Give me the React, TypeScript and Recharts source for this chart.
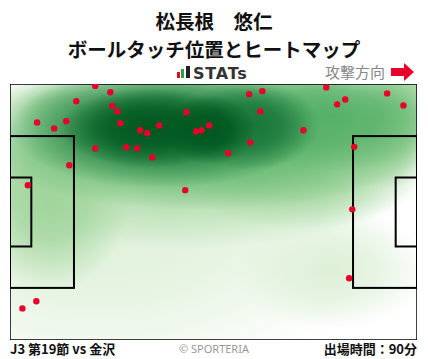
import React from "react";
import { ScatterChart, Scatter, XAxis, YAxis } from "recharts";

// ---- data (pitch metres: x 0..105 attacking right, y 0..68 from top) ----
const touchX = [
  22.0, 25.9, 17.1, 26.4, 27.7, 7.0, 14.5, 11.4, 28.5, 33.6, 35.4, 38.5, 45.5,
  48.0, 49.4, 51.4, 22.0, 30.0, 32.8, 36.7, 15.3, 4.6, 45.2, 61.7, 65.1, 81.6,
  64.6, 84.4, 86.5, 97.3, 101.5, 75.7, 62.0, 56.3, 88.8, 88.3, 87.5, 6.8, 3.2,
];
const touchY = [
  0.5, 2.2, 4.6, 5.8, 7.3, 10.2, 9.9, 11.8, 10.4, 12.3, 13.1, 11.0, 7.5, 12.6,
  12.3, 11.0, 17.1, 16.8, 17.1, 19.5, 21.6, 26.9, 28.2, 2.7, 1.9, 0.9, 7.3, 5.4,
  4.1, 2.5, 5.7, 12.3, 15.5, 18.4, 16.7, 33.3, 51.6, 57.7, 59.6,
];

// heat density blobs: centre (m), spread (m), intensity level 1..5
const heatX = [
  23.2, 82.6, 46.4, 10.3, 15.5, 100.6, 74.8, 96.0, 49.0, 82.6, 38.7, 61.9, 36.1,
  51.6,
];
const heatY = [
  36.1, 49.4, 17.5, 30.8, 6.9, 6.9, 22.8, 16.0, 13.5, 8.2, 11.7, 10.9, 11.7,
  12.2,
];
const heatSX = [
  77.0, 25.8, 67.0, 20.6, 15.5, 13.0, 31.0, 14.0, 62.0, 30.0, 38.7, 18.0, 23.2,
  11.6,
];
const heatSY = [
  45.0, 16.0, 26.5, 24.0, 8.0, 16.0, 16.0, 12.0, 20.0, 15.0, 16.0, 12.0, 10.6,
  9.3,
];
const heatLevel = [1, 1, 2, 2, 2, 2, 2, 2, 3, 3, 4, 4, 5, 5];

// pitch markings: [x1, y1, x2, y2] in metres
const pitchLineX1 = [0, 0, 88.5, 99.5, 52.5, 0];
const pitchLineY1 = [13.84, 24.84, 13.84, 24.84, 0, 0];
const pitchLineX2 = [16.5, 5.5, 105, 105, 52.5, 105];
const pitchLineY2 = [54.16, 43.16, 54.16, 43.16, 68, 68];

const touches = touchX.map((x, i) => ({ x, y: touchY[i] }));
const heat = heatX.map((x, i) => ({
  x,
  y: heatY[i],
  sx: heatSX[i],
  sy: heatSY[i],
  level: heatLevel[i],
}));
const pitchLines = pitchLineX1.map((x, i) => ({
  x,
  y: pitchLineY1[i],
  w: pitchLineX2[i] - x,
  h: pitchLineY2[i] - pitchLineY1[i],
  outline: i === pitchLineX1.length - 1,
}));

const levelColors = ["#def0d8", "#9fd49a", "#55b066", "#17763a", "#00561f"];

const W = 428;
const H = 359;
const M = { top: 84, right: 11, bottom: 19, left: 10 };
const PW = W - M.left - M.right;
const PH = H - M.top - M.bottom;
const pxX = PW / 105;
const pxY = PH / 68;

const HeatShape = (props: any) => {
  const { cx, cy, payload } = props;
  if (cx == null || cy == null) return null;
  return (
    <g clipPath="url(#pitchClip)">
      <ellipse
        cx={cx}
        cy={cy}
        rx={payload.sx * pxX}
        ry={payload.sy * pxY}
        fill={`url(#heatGrad${payload.level})`}
      />
    </g>
  );
};

const LineShape = (props: any) => {
  const { cx, cy, payload } = props;
  if (cx == null || cy == null) return null;
  return (
    <rect
      x={cx}
      y={cy}
      width={payload.w * pxX}
      height={payload.h * pxY}
      fill="none"
      stroke="#000"
      strokeWidth={payload.outline ? 1.5 : 2}
    />
  );
};

const Dot = (props: any) => {
  const { cx, cy } = props;
  if (cx == null || cy == null) return null;
  return <circle cx={cx} cy={cy} r={3.2} fill="#e8002a" />;
};

export default function App() {
  const font = '"Noto Sans CJK JP", "Noto Sans", sans-serif';
  return (
    <div
      style={{
        position: "absolute",
        left: 0,
        top: 0,
        width: W,
        height: H,
        background: "#fff",
        fontFamily: font,
        overflow: "hidden",
      }}
    >
      <svg width={0} height={0} style={{ position: "absolute" }}>
        <defs>
          <clipPath id="pitchClip" clipPathUnits="userSpaceOnUse">
            <rect x={M.left} y={M.top} width={PW} height={PH} />
          </clipPath>
          {levelColors.map((c, i) => (
            <radialGradient key={i} id={`heatGrad${i + 1}`}>
              <stop offset="0%" stopColor={c} stopOpacity={1} />
              <stop offset="45%" stopColor={c} stopOpacity={0.75} />
              <stop offset="100%" stopColor={c} stopOpacity={0} />
            </radialGradient>
          ))}
        </defs>
      </svg>

      <div
        style={{
          position: "absolute",
          top: 6.5,
          width: W,
          textAlign: "center",
          fontSize: 19.5,
          fontWeight: 700,
          lineHeight: "28.5px",
          color: "#111",
        }}
      >
        松長根　悠仁
        <br />
        ボールタッチ位置とヒートマップ
      </div>

      <svg
        width={W}
        height={30}
        style={{ position: "absolute", left: 0, top: 58 }}
      >
        <rect x={177} y={14} width={3} height={6} fill="#e8002a" />
        <rect x={181} y={11} width={3} height={9} fill="#2aa33a" />
        <rect x={186} y={8} width={4} height={12} fill="#222" />
        <text
          x={193}
          y={20.5}
          fontFamily='"DejaVu Sans", sans-serif'
          fontWeight={700}
          fontSize={16}
          letterSpacing={0.8}
          fill="#333"
        >
          STATs
        </text>
        <text x={325} y={20} fontFamily={font} fontSize={15} fill="#888">
          攻撃方向
        </text>
        <path
          d="M391,10 L404,10 L404,5 L414,14 L404,23 L404,18 L391,18 Z"
          fill="#e8002a"
        />
      </svg>

      <div style={{ position: "absolute", left: 0, top: 0 }}>
        <ScatterChart width={W} height={H} margin={M}>
          <XAxis
            type="number"
            dataKey="x"
            domain={[0, 105]}
            hide
            allowDataOverflow
          />
          <YAxis
            type="number"
            dataKey="y"
            domain={[0, 68]}
            reversed
            hide
            allowDataOverflow
          />
          <Scatter data={heat} shape={<HeatShape />} isAnimationActive={false} />
          <Scatter
            data={pitchLines}
            shape={<LineShape />}
            isAnimationActive={false}
          />
          <Scatter data={touches} shape={<Dot />} isAnimationActive={false} />
        </ScatterChart>
      </div>

      <div
        style={{
          position: "absolute",
          left: 10,
          top: 340,
          fontSize: 13,
          fontWeight: 700,
          lineHeight: "18px",
          color: "#111",
        }}
      >
        J3 第19節 vs 金沢
      </div>
      <div
        style={{
          position: "absolute",
          left: 0,
          width: W,
          top: 340,
          textAlign: "center",
          fontSize: 11,
          lineHeight: "17px",
          color: "#999",
          fontFamily: '"Noto Sans", sans-serif',
        }}
      >
        © SPORTERIA
      </div>
      <div
        style={{
          position: "absolute",
          right: 11,
          top: 340,
          fontSize: 13,
          fontWeight: 700,
          lineHeight: "18px",
          color: "#111",
        }}
      >
        出場時間：90分
      </div>
    </div>
  );
}
